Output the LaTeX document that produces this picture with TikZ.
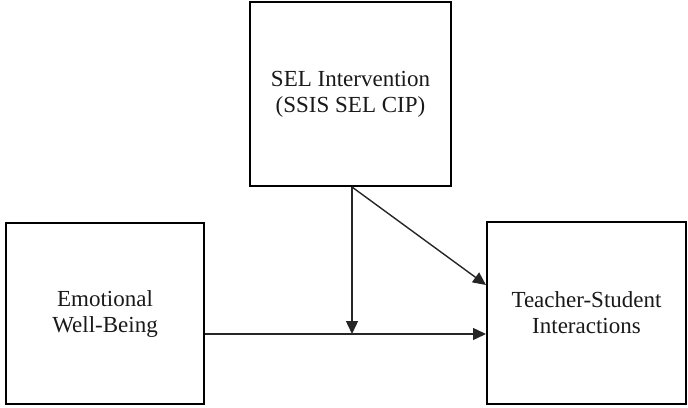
\documentclass[tikz,border=0pt]{standalone}
\usepackage{fontspec}
\setmainfont{Liberation Serif}
\usetikzlibrary{arrows.meta}
\begin{document}
\begin{tikzpicture}[x=1pt,y=-1pt,
  box/.style={draw=black, line width=2pt, inner sep=0pt, align=center,
    font=\fontsize{23}{26}\selectfont, text=black!90},
  arr/.style={draw=black!85, line width=1.4pt, -{Triangle[length=13pt,width=12pt]}}]
\useasboundingbox (0,0) rectangle (688,407);
\node[box, minimum width=201pt, minimum height=184pt] (sel) at (350.5,94) {SEL Intervention\\(SSIS SEL CIP)};
\node[box, minimum width=198pt, minimum height=181pt] (ewb) at (105,313.5) {Emotional\\Well-Being};
\node[box, minimum width=199pt, minimum height=182pt] (tsi) at (586.5,313) {Teacher-Student\\Interactions};
\coordinate (m) at (352,334);
\coordinate (d) at (487,285);
\coordinate (s) at (352,187);
\draw[arr] (ewb.east |- m) -- (tsi.west |- m);
\draw[arr] (s) -- (m);
\draw[arr] (s) -- (tsi.west |- d);
\end{tikzpicture}
\end{document}
